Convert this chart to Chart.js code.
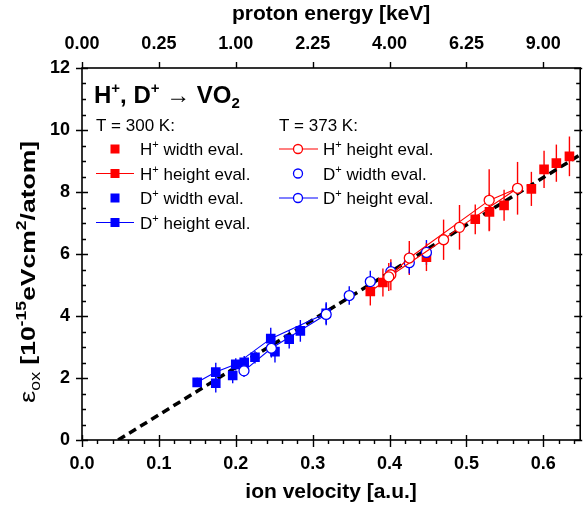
<!DOCTYPE html>
<html><head><meta charset="utf-8">
<script src="https://cdn.jsdelivr.net/npm/chart.js@4.4.0/dist/chart.umd.min.js"></script>
<style>html,body{margin:0;padding:0;background:#fff;}</style>
</head><body>
<canvas id="c" width="587" height="505"></canvas>
<script>
// ---- tick values / labels ----
const xTicks = [0, 0.1, 0.2, 0.3, 0.4, 0.5, 0.6];
const xTickLabels = ['0.0', '0.1', '0.2', '0.3', '0.4', '0.5', '0.6'];
const energyTickLabels = ['0.00', '0.25', '1.00', '2.25', '4.00', '6.25', '9.00'];
const yTicks = [0, 2, 4, 6, 8, 10, 12];

// ---- T = 300 K ----
const hWidthX   = [0.448, 0.5115, 0.530, 0.549, 0.5845, 0.601, 0.617, 0.634];
const hWidthY   = [5.90, 7.12, 7.36, 7.57, 8.10, 8.73, 8.93, 9.15];
const hWidthErr = [0.45, 0.48, 0.60, 0.50, 0.55, 0.60, 0.60, 0.64];

const hHeightX   = [0.375, 0.3914];
const hHeightY   = [4.79, 5.08];
const hHeightErr = [0.45, 0.45];

const dWidthX   = [0.174, 0.196, 0.211, 0.225, 0.251, 0.2695, 0.284];
const dWidthY   = [1.83, 2.08, 2.51, 2.67, 2.85, 3.25, 3.52];
const dWidthErr = [0.30, 0.25, 0.20, 0.20, 0.35, 0.30, 0.35];

const dHeightX   = [0.1498, 0.174, 0.200, 0.2455, 0.3176];
const dHeightY   = [1.86, 2.19, 2.44, 3.27, 4.09];
const dHeightErr = [0.15, 0.30, 0.20, 0.35, 0.35];

// ---- T = 373 K ----
const hHeight373X   = [0.4017, 0.4257, 0.5296, 0.5665, 0.491, 0.4703, 0.399];
const hHeight373Y   = [5.33, 5.87, 7.73, 8.12, 6.86, 6.46, 5.26];
const hHeight373Err = [0.50, 0.55, 1.00, 0.85, 0.72, 0.65, 0.45];

const dWidth373X   = [0.3476, 0.375, 0.4017, 0.4257, 0.448];
const dWidth373Y   = [4.66, 5.11, 5.43, 5.72, 6.05];
const dWidth373Err = [0.30, 0.35, 0.30, 0.35, 0.40];

const dHeight373X   = [0.2107, 0.2463, 0.3176];
const dHeight373Y   = [2.23, 2.96, 4.05];
const dHeight373Err = [0.20, 0.30, 0.35];

// ---- linear fit (dashed) ----
const fitX = [0.047, 0.648];
const fitY = [0, 9.2];

const RED = '#ff0000', BLUE = '#0000ff';
const FONT = '"Liberation Sans", Arial, Helvetica, sans-serif';
Chart.defaults.font.family = FONT;

function pts(xs, ys) { return xs.map((x, i) => ({x: x, y: ys[i]})); }

function sq(xs, ys, errs, color, line) {
  return {data: pts(xs, ys), errs: errs, showLine: line, borderColor: color, backgroundColor: color,
    pointStyle: 'rect', pointRadius: 6.8, pointBorderWidth: 0, borderWidth: 1.1, order: 1};
}
function circ(xs, ys, errs, color, line) {
  return {data: pts(xs, ys), errs: errs, showLine: line, borderColor: color, backgroundColor: '#ffffff',
    pointBackgroundColor: '#ffffff', pointBorderColor: color,
    pointStyle: 'circle', pointRadius: 5, pointBorderWidth: 1.3, borderWidth: 1.1, order: 0};
}

function measureRich(ctx, parts) {
  let w = 0;
  parts.forEach(p => {
    ctx.font = (p.w || 'normal') + ' ' + p.s + 'px ' + FONT;
    p.width = ctx.measureText(p.t).width; w += p.width;
  });
  return w;
}
function drawRich(ctx, parts, x, y, align) {
  const w = measureRich(ctx, parts);
  let cx = align === 'center' ? x - w / 2 : x;
  ctx.textBaseline = 'alphabetic';
  ctx.textAlign = 'left';
  parts.forEach(p => {
    ctx.font = (p.w || 'normal') + ' ' + p.s + 'px ' + FONT;
    ctx.fillText(p.t, cx, y + (p.dy || 0));
    cx += p.width;
  });
}

const errorBars = {
  id: 'errorBars',
  beforeDatasetsDraw(chart) {
    const ctx = chart.ctx, xs = chart.scales.x, ys = chart.scales.y;
    chart.data.datasets.forEach(ds => {
      if (!ds.errs) return;
      ctx.save();
      ctx.strokeStyle = ds.borderColor;
      ctx.lineWidth = 1.4;
      ds.data.forEach((p, i) => {
        const px = xs.getPixelForValue(p.x);
        ctx.beginPath();
        ctx.moveTo(px, ys.getPixelForValue(p.y - ds.errs[i]));
        ctx.lineTo(px, ys.getPixelForValue(p.y + ds.errs[i]));
        ctx.stroke();
      });
      ctx.restore();
    });
  }
};

const decor = {
  id: 'decor',
  afterDraw(chart) {
    const ctx = chart.ctx;
    const {left, right, top, bottom} = chart.chartArea;
    const xs = chart.scales.x, ys = chart.scales.y;
    ctx.save();
    ctx.strokeStyle = '#000'; ctx.fillStyle = '#000';
    ctx.lineWidth = 1.6;
    ctx.strokeRect(left, top, right - left, bottom - top);
    ctx.lineWidth = 1.4;
    ctx.beginPath();
    for (let i = 0; i * 0.02 <= xs.max + 1e-9; i++) {
      const px = Math.round(xs.getPixelForValue(i * 0.02)) + 0.5;
      if (i % 5 === 0) {
        ctx.moveTo(px, bottom - 5); ctx.lineTo(px, bottom + 7);
        ctx.moveTo(px, top); ctx.lineTo(px, top - 6);
      } else {
        ctx.moveTo(px, bottom); ctx.lineTo(px, bottom + 4);
      }
    }
    for (let i = 0; i <= 24; i++) {
      const py = Math.round(ys.getPixelForValue(i * 0.5)) + 0.5;
      if (i % 4 === 0) {
        ctx.moveTo(left - 6, py); ctx.lineTo(left + 6, py);
        ctx.moveTo(right - 6, py); ctx.lineTo(right + 2, py);
      } else {
        ctx.moveTo(left, py); ctx.lineTo(left + 4, py);
        ctx.moveTo(right - 4, py); ctx.lineTo(right, py);
      }
    }
    ctx.stroke();

    // y axis title (rotated)
    const yTitle = [
      {t: '\u03B5', s: 22},
      {t: 'ox', s: 14, dy: 5},
      {t: ' [10', s: 21, w: 'bold'},
      {t: '-15', s: 14, w: 'bold', dy: -9},
      {t: 'eVcm', s: 21, w: 'bold'},
      {t: '2', s: 14, w: 'bold', dy: -9},
      {t: '/atom]', s: 21, w: 'bold'}
    ];
    const tw = measureRich(ctx, yTitle);
    ctx.save();
    ctx.translate(35, 272);
    ctx.rotate(-Math.PI / 2);
    ctx.scale(262 / tw, 1);
    drawRich(ctx, yTitle, 0, 0, 'center');
    ctx.restore();

    // legend title
    drawRich(ctx, [
      {t: 'H', s: 24, w: 'bold'},
      {t: '+', s: 15, w: 'bold', dy: -10},
      {t: ', D', s: 24, w: 'bold'},
      {t: '+', s: 15, w: 'bold', dy: -10},
      {t: ' \u2192 ', s: 24},
      {t: 'VO', s: 24, w: 'bold'},
      {t: '2', s: 15, w: 'bold', dy: 5}
    ], 94, 103, 'left');

    drawRich(ctx, [{t: 'T = 300 K:', s: 17}], 96, 131, 'left');
    drawRich(ctx, [{t: 'T = 373 K:', s: 17}], 279, 131, 'left');

    const rows = [149, 173.5, 198, 222.5];
    const col1 = [
      {ion: 'H', txt: ' width eval.', color: RED, line: false},
      {ion: 'H', txt: ' height eval.', color: RED, line: true},
      {ion: 'D', txt: ' width eval.', color: BLUE, line: false},
      {ion: 'D', txt: ' height eval.', color: BLUE, line: true}
    ];
    const col2 = [
      {ion: 'H', txt: ' height eval.', color: RED, line: true},
      {ion: 'D', txt: ' width eval.', color: BLUE, line: false},
      {ion: 'D', txt: ' height eval.', color: BLUE, line: true}
    ];
    col1.forEach((e, i) => {
      const y = rows[i];
      ctx.strokeStyle = e.color; ctx.fillStyle = e.color; ctx.lineWidth = 1.1;
      if (e.line) { ctx.beginPath(); ctx.moveTo(96, y); ctx.lineTo(134, y); ctx.stroke(); }
      ctx.fillRect(110.5, y - 4.5, 9, 9);
      ctx.fillStyle = '#000';
      drawRich(ctx, [{t: e.ion, s: 17}, {t: '+', s: 11, dy: -7}, {t: e.txt, s: 17}], 140, y + 6, 'left');
    });
    col2.forEach((e, i) => {
      const y = rows[i];
      ctx.strokeStyle = e.color; ctx.lineWidth = 1.1;
      if (e.line) { ctx.beginPath(); ctx.moveTo(279, y); ctx.lineTo(318, y); ctx.stroke(); }
      ctx.fillStyle = '#fff'; ctx.lineWidth = 1.3;
      ctx.beginPath(); ctx.arc(298, y, 4.5, 0, Math.PI * 2); ctx.fill(); ctx.stroke();
      ctx.fillStyle = '#000';
      drawRich(ctx, [{t: e.ion, s: 17}, {t: '+', s: 11, dy: -7}, {t: e.txt, s: 17}], 323, y + 6, 'left');
    });
    ctx.restore();
  }
};

const tickFont = {family: FONT, size: 18, weight: 'bold'};
const titleFont = {family: FONT, size: 21, weight: 'bold'};

new Chart(document.getElementById('c'), {
  type: 'scatter',
  data: {
    datasets: [
      circ(hHeight373X, hHeight373Y, hHeight373Err, RED, true),
      circ(dWidth373X, dWidth373Y, dWidth373Err, BLUE, false),
      circ(dHeight373X, dHeight373Y, dHeight373Err, BLUE, true),
      sq(hWidthX, hWidthY, hWidthErr, RED, false),
      sq(hHeightX, hHeightY, hHeightErr, RED, true),
      sq(dWidthX, dWidthY, dWidthErr, BLUE, false),
      sq(dHeightX, dHeightY, dHeightErr, BLUE, true),
      {type: 'line', data: pts(fitX, fitY), borderColor: '#000', borderWidth: 3.5,
       borderDash: [8, 5], pointRadius: 0, fill: false, order: 10}
    ]
  },
  options: {
    responsive: false,
    animation: false,
    layout: {padding: {left: 0, right: 2, top: 0, bottom: 0}},
    plugins: {legend: {display: false}, tooltip: {enabled: false}},
    scales: {
      x: {
        type: 'linear', position: 'bottom', min: 0, max: 0.648,
        afterBuildTicks: s => { s.ticks = xTicks.map(v => ({value: v})); },
        afterFit: s => { s.height = 65; },
        grid: {display: false, drawTicks: false}, border: {display: false},
        ticks: {callback: (v, i) => xTickLabels[i], font: tickFont, color: '#000', padding: 13,
                maxRotation: 0, autoSkip: false},
        title: {display: true, text: 'ion velocity [a.u.]', font: titleFont, color: '#000',
                padding: {top: 0, bottom: 0}}
      },
      x2: {
        type: 'linear', position: 'top', min: 0, max: 0.648,
        afterBuildTicks: s => { s.ticks = xTicks.map(v => ({value: v})); },
        afterFit: s => { s.height = 68; },
        grid: {display: false, drawTicks: false}, border: {display: false},
        ticks: {callback: (v, i) => energyTickLabels[i], font: tickFont, color: '#000', padding: 13,
                maxRotation: 0, autoSkip: false},
        title: {display: true, text: 'proton energy [keV]', font: titleFont, color: '#000',
                padding: {top: 2, bottom: 0}}
      },
      y: {
        type: 'linear', position: 'left', min: 0, max: 12,
        afterBuildTicks: s => { s.ticks = yTicks.map(v => ({value: v})); },
        afterFit: s => { s.width = 82; },
        grid: {display: false, drawTicks: false}, border: {display: false},
        ticks: {callback: v => String(v), font: tickFont, color: '#000', padding: 12, autoSkip: false}
      }
    }
  },
  plugins: [errorBars, decor]
});
</script>
</body></html>
